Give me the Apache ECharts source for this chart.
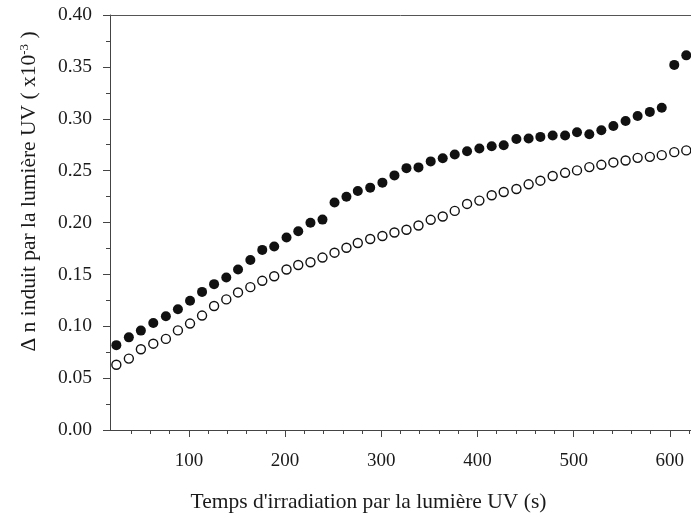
<!DOCTYPE html>
<html>
<head>
<meta charset="utf-8">
<script src="https://cdn.jsdelivr.net/npm/echarts@6/dist/echarts.min.js"></script>
<style>html,body{margin:0;padding:0;background:#fff}#chart{width:691px;height:518px}</style>
</head>
<body>
<div id="chart"></div>
<script>
// irradiation time (s)
const times = [24.6, 37.6, 50.1, 63.0, 76.1, 88.6, 101.2, 113.7, 126.2, 138.9, 151.1, 163.9,
  176.3, 188.7, 201.5, 213.7, 226.4, 238.9, 251.4, 263.8, 275.6, 288.5, 301.2, 313.7,
  326.2, 338.7, 351.4, 363.9, 376.4, 389.2, 402.0, 414.8, 427.3, 440.5, 453.2, 465.4,
  478.2, 491.1, 503.5, 516.3, 528.8, 541.3, 554.0, 566.5, 579.2, 591.6, 604.6, 617.1];
// filled circles
const filledValues = [0.0818, 0.0893, 0.0958, 0.1032, 0.1096, 0.1163, 0.1246, 0.1331, 0.1406, 0.1470, 0.1547, 0.1638,
  0.1736, 0.1769, 0.1855, 0.1915, 0.1997, 0.2028, 0.2192, 0.2249, 0.2304, 0.2336, 0.2384, 0.2454,
  0.2524, 0.2531, 0.2589, 0.2620, 0.2656, 0.2687, 0.2713, 0.2735, 0.2745, 0.2805, 0.2809, 0.2825,
  0.2838, 0.2839, 0.2870, 0.2850, 0.2889, 0.2930, 0.2978, 0.3026, 0.3066, 0.3106, 0.3519, 0.3611];
// open circles
const openValues = [0.0629, 0.0688, 0.0778, 0.0832, 0.0878, 0.0960, 0.1026, 0.1103, 0.1195, 0.1259, 0.1326, 0.1377,
  0.1438, 0.1482, 0.1547, 0.1590, 0.1617, 0.1662, 0.1709, 0.1757, 0.1802, 0.1841, 0.1870, 0.1904,
  0.1930, 0.1971, 0.2026, 0.2058, 0.2112, 0.2179, 0.2211, 0.2263, 0.2294, 0.2323, 0.2368, 0.2403,
  0.2448, 0.2479, 0.2502, 0.2534, 0.2556, 0.2579, 0.2598, 0.2623, 0.2633, 0.2649, 0.2678, 0.2695];
const xMajorTicks = [100, 200, 300, 400, 500, 600];
const xMinorTicks = [40, 60, 80, 120, 140, 160, 180, 220, 240, 260, 280, 320, 340, 360, 380,
  420, 440, 460, 480, 520, 540, 560, 580, 620];
const xTitle = "Temps d'irradiation par la lumière UV (s)";
const yTitle = "Δ n induit par la lumière UV ( x10{sup|-3} )";

const font = 'Liberation Serif';
const axisColor = '#444';
const textColor = '#1a1a1a';
const xMin = 18, xMax = 622;

const chart = echarts.init(document.getElementById('chart'), null, {renderer: 'canvas'});
chart.setOption({
  backgroundColor: '#fff',
  animation: false,
  grid: {left: 110, right: 0, top: 15, bottom: 86, containLabel: false},
  xAxis: [
    {
      type: 'value', min: xMin, max: xMax, position: 'bottom',
      axisLine: {show: true, onZero: false, lineStyle: {color: axisColor, width: 1}},
      axisTick: {show: true, customValues: xMajorTicks, length: 7, inside: false, lineStyle: {color: axisColor}},
      axisLabel: {show: true, customValues: xMajorTicks, margin: 22, color: textColor, fontFamily: font, fontSize: 19},
      splitLine: {show: false},
      name: xTitle, nameLocation: 'middle', nameGap: 61,
      nameTextStyle: {fontFamily: font, fontSize: 21.5, color: textColor, padding: [0, 64, 0, 0]}
    },
    {
      type: 'value', min: xMin, max: xMax, position: 'bottom',
      axisLine: {show: false, onZero: false},
      axisTick: {show: true, customValues: xMinorTicks, length: 4, lineStyle: {color: axisColor}},
      axisLabel: {show: false},
      splitLine: {show: false}
    },
    {
      type: 'value', min: xMin, max: xMax, position: 'top',
      axisLine: {show: true, onZero: false, lineStyle: {color: '#555', width: 1}},
      axisTick: {show: false}, axisLabel: {show: false}, splitLine: {show: false}
    }
  ],
  yAxis: {
    type: 'value', min: 0, max: 0.4, interval: 0.05,
    axisLine: {show: true, onZero: false, lineStyle: {color: axisColor, width: 1}},
    axisTick: {show: true, length: 7, lineStyle: {color: axisColor}},
    minorTick: {show: true, splitNumber: 2, length: 4, lineStyle: {color: axisColor}},
    axisLabel: {margin: 18, color: textColor, fontFamily: font, fontSize: 19.5,
      formatter: v => v.toFixed(2)},
    splitLine: {show: false},
    name: yTitle, nameLocation: 'middle', nameGap: 69, nameRotate: 90,
    nameTextStyle: {fontFamily: font, fontSize: 21.5, color: textColor, padding: [0, 0, 0, 62],
      rich: {sup: {fontFamily: font, fontSize: 13, color: textColor, verticalAlign: 'top', padding: [0, 0, 10, 0]}}}
  },
  series: [
    {
      type: 'scatter', xAxisIndex: 0,
      data: times.map((t, i) => [t, openValues[i]]),
      symbol: 'circle', symbolSize: 9,
      itemStyle: {color: '#fff', borderColor: '#111', borderWidth: 1.4, opacity: 1},
      z: 3
    },
    {
      type: 'scatter', xAxisIndex: 0,
      data: times.map((t, i) => [t, filledValues[i]]),
      symbol: 'circle', symbolSize: 10,
      itemStyle: {color: '#111', opacity: 1},
      z: 4
    }
  ]
});
</script>
</body>
</html>
